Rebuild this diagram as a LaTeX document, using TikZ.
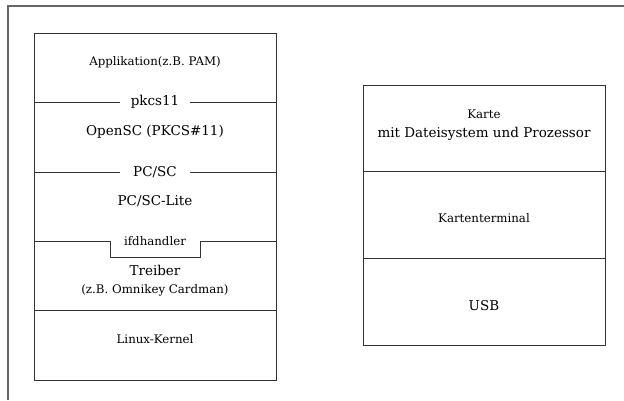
\documentclass[tikz,border=0pt]{standalone}
\usepackage{fontspec}
\setmainfont{DejaVu Serif}
\begin{document}
\begin{tikzpicture}[x=1pt,y=-1pt,
  ln/.style={draw=black!80,line width=1pt},
  big/.style={font=\fontsize{13.5}{16}\selectfont,inner sep=1pt},
  small/.style={font=\fontsize{11.8}{14}\selectfont,inner sep=1pt},
  iface/.style={big,fill=white,inner xsep=0pt,minimum width=70pt}]
\useasboundingbox (0,0) rectangle (624,400);
% outer frame (cropped)
\draw[draw=black!60,line width=1.2pt] (8,400) -- (8,6) -- (624,6);
% left stack
\draw[ln] (34,33) rectangle (276,380);
\node[small] (app) at (155,62) {Applikation(z.B. PAM)};
\draw[ln] (34,102) -- (276,102);
\node[iface] (pkcs) at (155,102) {pkcs11};
\node[big] (opensc) at (155,132) {OpenSC (PKCS\#11)};
\draw[ln] (34,172) -- (276,172);
\node[iface] (pcsc) at (155,172) {PC/SC};
\node[big] (lite) at (155,201) {PC/SC-Lite};
\node[small] (ifd) at (155,241) {ifdhandler};
\draw[ln] (34,241.5) -- (110,241.5) -- (110,257.5) -- (200,257.5) -- (200,241.5) -- (276,241.5);
\node[big] (treiber) at (155,270) {Treiber};
\node[small] (omni) at (155,290) {(z.B. Omnikey Cardman)};
\draw[ln] (34,310.5) -- (276,310.5);
\node[small] (kernel) at (155,339) {Linux-Kernel};
% right stack
\draw[ln] (363,85) rectangle (605,345);
\node[small] (karte) at (484,114) {Karte};
\node[big] (mitd) at (484,134) {mit Dateisystem und Prozessor};
\draw[ln] (363,171.5) -- (605,171.5);
\node[small] (kt) at (484,218) {Kartenterminal};
\draw[ln] (363,258) -- (605,258);
\node[big] (usb) at (484,306) {USB};
\end{tikzpicture}
\end{document}
